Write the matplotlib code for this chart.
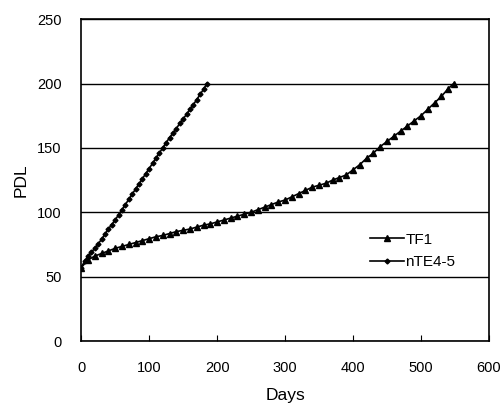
import matplotlib.pyplot as plt
import numpy as np

plt.rcParams['font.family'] = ['Liberation Sans', 'DejaVu Sans']

# TF1 (triangles)
tf1_days = [0, 10, 20, 30, 40, 50, 60, 70, 80, 90, 100, 110, 120, 130, 140, 150,
            160, 170, 180, 190, 200, 210, 220, 230, 240, 250, 260, 270, 280, 290,
            300, 310, 320, 330, 340, 350, 360, 370, 380, 390, 400, 410, 420, 430,
            440, 450, 460, 470, 480, 490, 500, 510, 520, 530, 540, 548]
tf1_pdl = [57, 63, 66, 68, 70, 72, 73.5, 75, 76.5, 78, 79.5, 81, 82, 83.5, 85, 86,
           87, 88.5, 90, 91, 92.5, 94, 95.5, 97, 98.5, 100, 102, 104, 106, 108,
           109.5, 112, 114.5, 117, 119.5, 121, 122.5, 125, 127, 129, 133, 137, 142, 146,
           151, 155, 159, 163, 167, 171, 175, 180, 185, 190, 196, 200]

# nTE4-5 (dots)
nte_days = [0, 5, 10, 15, 20, 25, 30, 35, 40, 45, 50, 55, 60, 65, 70, 75, 80, 85,
            90, 95, 100, 105, 110, 115, 120, 125, 130, 135, 140, 145, 150, 155,
            160, 165, 170, 175, 180, 185]
nte_pdl = [57, 62, 66, 69, 72, 75.5, 79, 83, 87, 90.5, 94, 98, 102, 106, 110, 114,
           118, 122, 126, 130, 134, 138, 142, 146, 150, 154, 158, 161.5, 165, 169,
           172.5, 176, 180, 183.5, 187.5, 191.5, 195.5, 200]

fig = plt.figure(figsize=(5.01, 4.07), dpi=100)
ax = fig.add_axes([0.162, 0.162, 0.814, 0.791])

ax.plot(tf1_days, tf1_pdl, color='black', lw=1.2, marker='^', ms=4,
        markerfacecolor='black', markeredgecolor='black', label='TF1')
ax.plot(nte_days, nte_pdl, color='black', lw=1.2, marker='D', ms=2.5,
        markerfacecolor='black', markeredgecolor='black', label='nTE4-5')

ax.set_xlim(0, 600)
ax.set_ylim(0, 250)
ax.set_xticks(np.arange(0, 601, 100))
ax.set_yticks(np.arange(0, 251, 50))
ax.yaxis.grid(True, color='black', lw=1)
ax.set_axisbelow(True)
ax.tick_params(axis='x', direction='in', length=4, labelsize=10.5, pad=14)
ax.tick_params(axis='y', length=0, labelsize=10.5, pad=14)
for s in ax.spines.values():
    s.set_color('black')
    s.set_linewidth(1.2)

ax.set_xlabel('Days', fontsize=12.5, labelpad=10)
ax.set_ylabel('PDL', fontsize=12.5, labelpad=6)

ax.legend(loc='center left', bbox_to_anchor=(0.675, 0.28), frameon=False,
          fontsize=11, handlelength=2.2, handletextpad=0.1, labelspacing=0.55)

plt.savefig('out.png', dpi=100)
